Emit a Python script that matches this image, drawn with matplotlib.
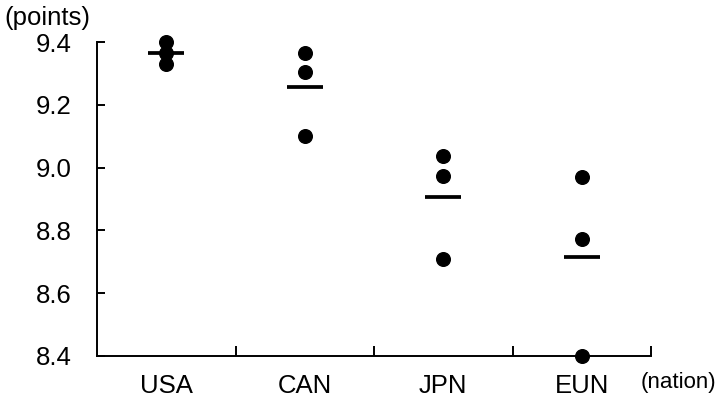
import numpy as np
import matplotlib.pyplot as plt

plt.rcParams['font.family'] = ['Liberation Sans', 'DejaVu Sans']

# data
nations = ["USA", "CAN", "JPN", "EUN"]
scores_usa = [9.40, 9.365, 9.33]
scores_can = [9.366, 9.303, 9.102]
scores_jpn = [9.038, 8.972, 8.708]
scores_eun = [8.971, 8.774, 8.40]
all_scores = [scores_usa, scores_can, scores_jpn, scores_eun]
y_ticks = [8.4, 8.6, 8.8, 9.0, 9.2, 9.4]

fig = plt.figure(figsize=(7.18, 4.08), dpi=100)
ax = fig.add_axes([0.135, 0.1275, 0.772, 0.7695])

pos = np.arange(1, len(nations) + 1)
for x, vals in zip(pos, all_scores):
    ax.plot([x] * len(vals), vals, 'o', color='black', markersize=9.8,
            clip_on=False, zorder=3)
    m = np.mean(vals)
    ax.plot([x - 0.13, x + 0.13], [m, m], '-', color='black', linewidth=2.7,
            solid_capstyle='butt', zorder=4)

ax.set_xlim(0.5, 4.5)
ax.set_ylim(8.4, 9.4)

# tick marks at category borders, labels at centres
ax.set_xticks(pos + 0.5)
ax.set_xticklabels([])
ax.set_xticks(pos, minor=True)
ax.set_xticklabels(nations, minor=True, fontsize=18.5)
ax.tick_params(axis='x', which='major', direction='in', length=7, width=1.4)
ax.tick_params(axis='x', which='minor', length=0, pad=13)

ax.set_yticks(y_ticks)
ax.set_yticklabels([f"{v:.1f}" for v in y_ticks], fontsize=18.5)
ax.tick_params(axis='y', direction='in', length=6, width=1.4, pad=18)

for side in ['top', 'right']:
    ax.spines[side].set_visible(False)
for side in ['left', 'bottom']:
    ax.spines[side].set_linewidth(1.4)

fig.text(0.006, 0.955, "(points)", fontsize=18.5, va='center', ha='left')
fig.text(0.892, 0.062, "(nation)", fontsize=16, va='center', ha='left')

fig.savefig("out.png", dpi=100)
